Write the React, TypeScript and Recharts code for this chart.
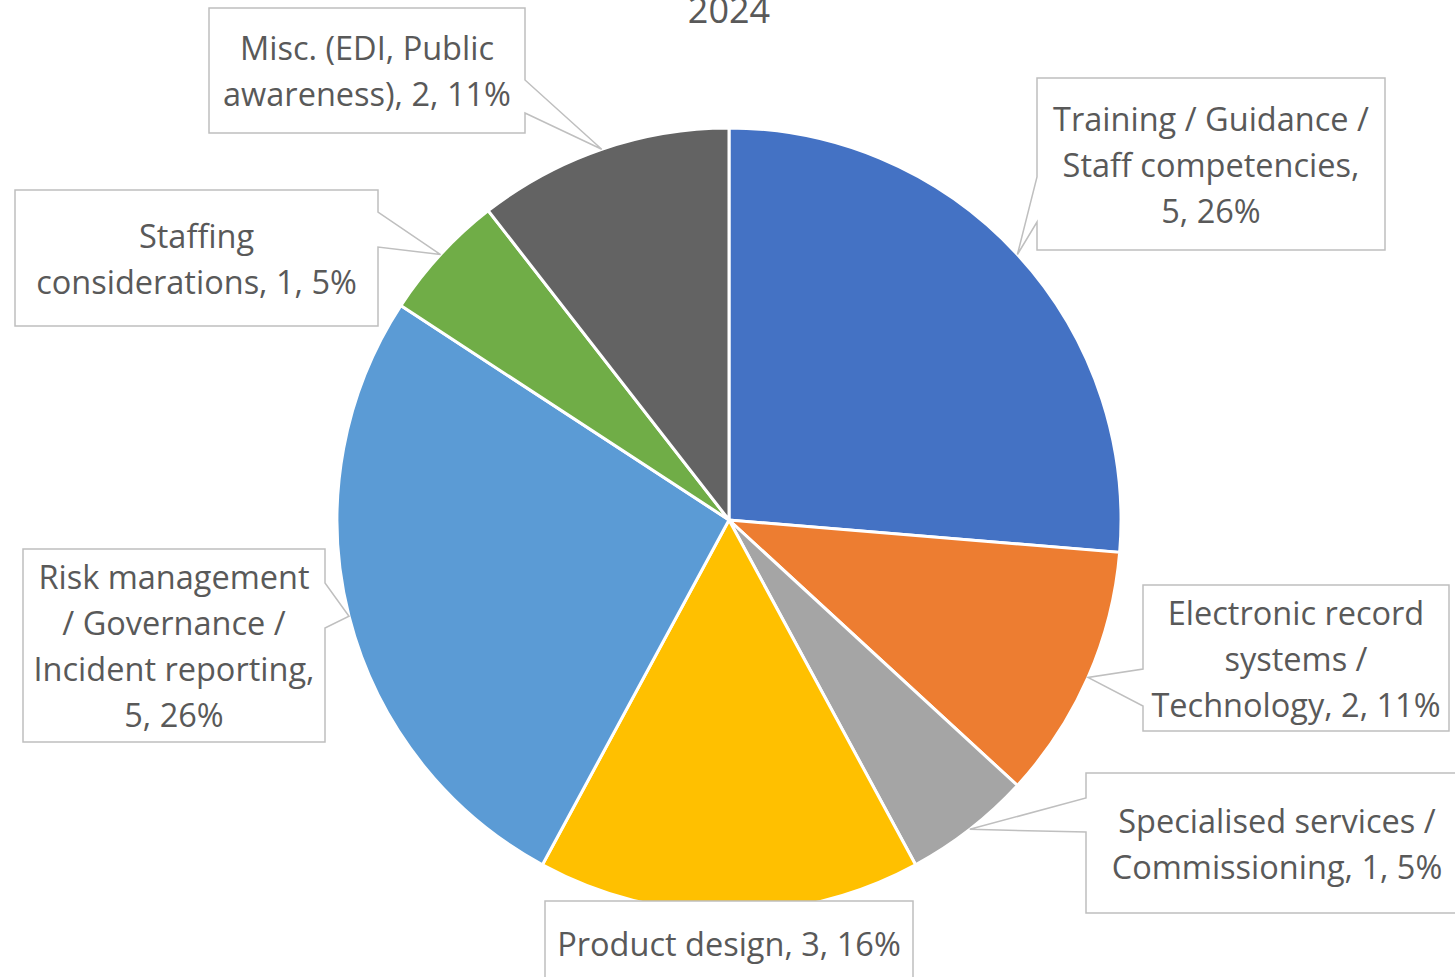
import React from "react"
import { PieChart, Pie, Cell } from "recharts"

const categories = [
  "Training / Guidance / Staff competencies",
  "Electronic record systems / Technology",
  "Specialised services / Commissioning",
  "Product design",
  "Risk management / Governance / Incident reporting",
  "Staffing considerations",
  "Misc. (EDI, Public awareness)",
]
const counts = [5, 2, 1, 3, 5, 1, 2]
const percents = ["26%", "11%", "5%", "16%", "26%", "5%", "11%"]
const colors = ["#4472C4", "#ED7D31", "#A5A5A5", "#FFC000", "#5B9BD5", "#70AD47", "#636363"]

// how each data label wraps, as Excel shows it
const labelLines = [
  ["Training / Guidance /", "Staff competencies,", "5, 26%"],
  ["Electronic record", "systems /", "Technology, 2, 11%"],
  ["Specialised services /", "Commissioning, 1, 5%"],
  ["Product design, 3, 16%"],
  ["Risk management", "/ Governance /", "Incident reporting,", "5, 26%"],
  ["Staffing", "considerations, 1, 5%"],
  ["Misc. (EDI, Public", "awareness), 2, 11%"],
]

const data = categories.map((name, i) => ({ name, value: counts[i], pct: percents[i] }))

// callout boxes: x, y, w, h, side of the pointer, pointer start/end along that side
const boxes: { x: number; y: number; w: number; h: number; side: string; a: number; b: number }[] = [
  { x: 1037, y: 78, w: 348, h: 172, side: "left", a: 177, b: 222 },
  { x: 1143, y: 585, w: 306, h: 146, side: "left", a: 669, b: 706 },
  { x: 1086, y: 773, w: 382, h: 140, side: "left", a: 798, b: 832 },
  { x: 545, y: 901, w: 368, h: 84, side: "none", a: 0, b: 0 },
  { x: 23, y: 549, w: 302, h: 193, side: "right", a: 583, b: 628 },
  { x: 15, y: 190, w: 363, h: 136, side: "right", a: 212, b: 247 },
  { x: 209, y: 8, w: 316, h: 125, side: "right", a: 80, b: 113 },
]

const FONT = "'Open Sans', sans-serif"
const TEXT = "#595959"
const LINE_H = 46
const RAD = Math.PI / 180

const renderCallout = (props: any) => {
  const { cx, cy, midAngle, outerRadius, index } = props
  const bx = boxes[index]
  const px = cx + outerRadius * Math.cos(-midAngle * RAD)
  const py = cy + outerRadius * Math.sin(-midAngle * RAD)
  const { x, y, w, h } = bx
  let d = ""
  if (bx.side === "left") {
    d = `M${x},${y} L${x + w},${y} L${x + w},${y + h} L${x},${y + h} L${x},${bx.b} L${px},${py} L${x},${bx.a} Z`
  } else if (bx.side === "right") {
    d = `M${x},${y} L${x + w},${y} L${x + w},${bx.a} L${px},${py} L${x + w},${bx.b} L${x + w},${y + h} L${x},${y + h} Z`
  } else {
    d = `M${x},${y} L${x + w},${y} L${x + w},${y + h} L${x},${y + h} Z`
  }
  const lines = labelLines[index]
  const midY = y + h / 2
  return (
    <g key={`callout-${index}`}>
      <path d={d} fill="#ffffff" stroke="#BFBFBF" strokeWidth={1.5} />
      {lines.map((t, i) => (
        <text
          key={i}
          x={x + w / 2}
          y={midY + (i - (lines.length - 1) / 2) * LINE_H}
          textAnchor="middle"
          dominantBaseline="central"
          fontFamily={FONT}
          fontSize={32.5}
          fill={TEXT}
        >
          {t}
        </text>
      ))}
    </g>
  )
}

export default function App() {
  return (
    <div style={{ position: "absolute", left: 0, top: 0, width: 1455, height: 977, background: "#fff" }}>
      <PieChart width={1455} height={977} margin={{ top: 0, right: 0, bottom: 0, left: 0 }}>
        <text x={729} y={23} textAnchor="middle" fontFamily={FONT} fontSize={36} fill={TEXT}>
          2024
        </text>
        <Pie
          data={data}
          dataKey="value"
          nameKey="name"
          cx={729}
          cy={520}
          outerRadius={392}
          startAngle={90}
          endAngle={-270}
          stroke="#ffffff"
          strokeWidth={3}
          label={renderCallout}
          labelLine={false}
          isAnimationActive={false}
        >
          {data.map((entry, i) => (
            <Cell key={`cell-${i}`} fill={colors[i]} />
          ))}
        </Pie>
      </PieChart>
    </div>
  )
}
